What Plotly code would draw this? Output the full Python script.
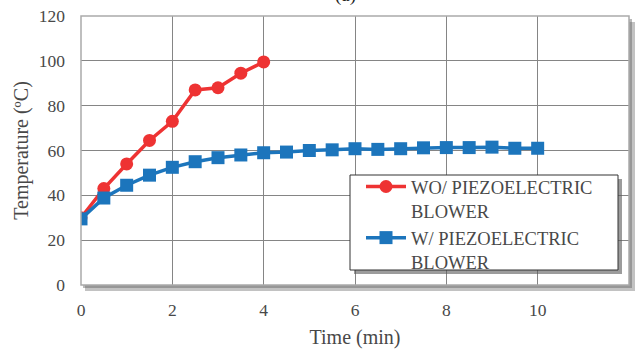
import plotly.graph_objects as go

time_wo = [0, 0.5, 1, 1.5, 2, 2.5, 3, 3.5, 4]
temp_wo = [30, 43, 54, 64.5, 73, 87, 88, 94.5, 99.5]

time_w = [0, 0.5, 1, 1.5, 2, 2.5, 3, 3.5, 4, 4.5, 5, 5.5, 6, 6.5, 7, 7.5, 8, 8.5, 9, 9.5, 10]
temp_w = [29.5, 38.8, 44.5, 49, 52.5, 55, 56.8, 58, 59, 59.3, 60, 60.3, 60.8, 60.5, 60.8, 61.2, 61.3, 61.3, 61.5, 61, 61]

name_wo = "WO/ PIEZOELECTRIC<br>BLOWER"
name_w = "W/ PIEZOELECTRIC<br>BLOWER"

FONT = "Liberation Serif, Times New Roman, serif"
TXT = "#484848"

fig = go.Figure()
fig.add_trace(go.Scatter(x=time_wo, y=temp_wo, mode="lines+markers", name=name_wo,
                         line=dict(color="#EE3333", width=3.5),
                         marker=dict(symbol="circle", size=13, color="#EE3333")))
fig.add_trace(go.Scatter(x=time_w, y=temp_w, mode="lines+markers", name=name_w,
                         line=dict(color="#1C75BC", width=3.5),
                         marker=dict(symbol="square", size=13, color="#1C75BC")))

PW, PH = 548.0, 269.0  # plot area size in px
def px(dx):
    return dx / PW
def py(dy):
    return dy / PH

# shadow of plot frame
fig.add_shape(type="rect", xref="paper", yref="paper", x0=px(4), x1=1 + px(6), y0=-py(6), y1=1 - py(6),
              line=dict(width=0), fillcolor="rgba(120,120,120,0.45)", layer="below")
fig.add_shape(type="rect", xref="paper", yref="paper", x0=px(2), x1=1 + px(3), y0=-py(3), y1=1 - py(3),
              line=dict(width=0), fillcolor="rgba(100,100,100,0.45)", layer="below")
fig.add_shape(type="rect", xref="paper", yref="paper", x0=0, x1=1, y0=0, y1=1,
              line=dict(width=0), fillcolor="white", layer="below")
fig.add_shape(type="rect", xref="paper", yref="paper", x0=0, x1=1, y0=0, y1=1,
              line=dict(color="#AAAAAA", width=1.5), layer="above")
# legend box + shadow (legend spans px 350..618, 175..270)
fig.add_shape(type="rect", xref="paper", yref="paper",
              x0=px(350 - 81 + 4), x1=px(618 - 81 + 4), y0=py(285 - 270 - 4), y1=py(285 - 175 - 4),
              line=dict(width=0), fillcolor="rgba(90,90,90,0.6)", layer="above")
fig.add_shape(type="rect", xref="paper", yref="paper",
              x0=px(350 - 81), x1=px(618 - 81), y0=py(285 - 270), y1=py(285 - 175),
              line=dict(color="#333333", width=1), fillcolor="white", layer="above")

fig.add_annotation(text="(a)", xref="paper", yref="paper", x=px(345 - 81), y=1.0, yshift=8,
                   yanchor="bottom", showarrow=False, font=dict(family=FONT, size=19, color="#222"))

tickfont = dict(family=FONT, size=17.5, color=TXT)
titlefont = dict(family=FONT, size=20, color=TXT)
fig.update_layout(
    width=637, height=349,
    margin=dict(l=81, r=8, t=16, b=64, autoexpand=False),
    paper_bgcolor="white", plot_bgcolor="white",
    font=dict(family=FONT, size=17, color=TXT),
    showlegend=True,
    legend=dict(x=px(361 - 81), y=py(285 - 168), xanchor="left", yanchor="top",
                bgcolor="rgba(0,0,0,0)", borderwidth=0, valign="top",
                font=dict(family=FONT, size=18.5, color=TXT),
                tracegroupgap=3, itemwidth=40),
    xaxis=dict(range=[0, 12], dtick=2, showgrid=True, gridcolor="#858585", gridwidth=1,
               zeroline=False, showline=False, ticks="", ticklabelstandoff=12, automargin=False,
               tickfont=tickfont,
               title=dict(text="Time (min)", font=titlefont, standoff=11)),
    yaxis=dict(range=[0, 120], dtick=20, showgrid=True, gridcolor="#858585", gridwidth=1,
               zeroline=False, showline=False, ticks="", ticklabelstandoff=15, automargin=False,
               tickfont=tickfont,
               title=dict(text="Temperature (ºC)", font=titlefont, standoff=4)),
)

fig.write_html("out.html", config={"displayModeBar": False},
               post_script="document.body.style.margin='0';document.body.style.padding='0';")
